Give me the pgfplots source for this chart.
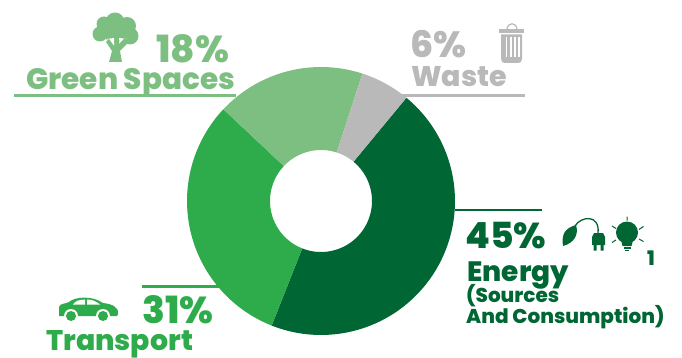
\documentclass[border=0pt]{standalone}
\usepackage{fontspec}
\setmainfont{Poppins}[BoldFont={Poppins ExtraBold}]
\usepackage{pgfplots}
\pgfplotsset{compat=1.18}
\definecolor{energy}{HTML}{006633}
\definecolor{transport}{HTML}{2EAB4A}
\definecolor{greensp}{HTML}{7DBF81}
\definecolor{waste}{HTML}{B9B9B9}
% Ring geometry in picture units
\def\cx{321}\def\cy{201}\def\ro{134}\def\ri{51}
\newcommand{\ringpath}[4]{% start angle, share, target macro, steps
  \pgfmathsetmacro{\endang}{#1+3.6*#2}
  \gdef#3{}
  \foreach \k in {0,...,#4}{
    \pgfmathsetmacro{\aa}{#1+(\endang-#1)*\k/#4}
    \pgfmathsetmacro{\px}{\cx+\ro*sin(\aa)}
    \pgfmathsetmacro{\py}{\cy-\ro*cos(\aa)}
    \xdef#3{#3 (\px,\py)}
  }
  \foreach \k in {#4,...,0}{
    \pgfmathsetmacro{\aa}{#1+(\endang-#1)*\k/#4}
    \pgfmathsetmacro{\px}{\cx+\ri*sin(\aa)}
    \pgfmathsetmacro{\py}{\cy-\ri*cos(\aa)}
    \xdef#3{#3 (\px,\py)}
  }
}
\begin{document}
\begin{tikzpicture}
% Shares in percent, clockwise from the 39.6 degree start
\ringpath{39.6}{45}{\ptsEnergy}{60}
\ringpath{201.6}{31}{\ptsTransport}{42}
\ringpath{313.2}{18}{\ptsGreen}{26}
\ringpath{378}{6}{\ptsWaste}{10}
\begin{axis}[at={(0,0)},anchor=south west,scale only axis,width=682pt,height=358pt,
  hide axis,clip=false,xmin=0,xmax=682,ymin=0,ymax=358,y dir=reverse]
\path (axis cs:0,0) rectangle (axis cs:682,358);
\edef\doplot{\noexpand\addplot[fill=energy,draw=none,no markers] coordinates {\ptsEnergy} -- cycle;}\doplot
\edef\doplot{\noexpand\addplot[fill=transport,draw=none,no markers] coordinates {\ptsTransport} -- cycle;}\doplot
\edef\doplot{\noexpand\addplot[fill=greensp,draw=none,no markers] coordinates {\ptsGreen} -- cycle;}\doplot
\edef\doplot{\noexpand\addplot[fill=waste,draw=none,no markers] coordinates {\ptsWaste} -- cycle;}\doplot

% Leader lines
\draw[greensp,line width=2.6pt] (axis cs:14,95.5) -- (axis cs:236,95.5);
\draw[waste,line width=2.6pt] (axis cs:400,95.5) -- (axis cs:525,95.5);
\draw[energy,line width=2.6pt] (axis cs:455,210) -- (axis cs:542,210);
\draw[transport,line width=2.6pt] (axis cs:142,286.5) -- (axis cs:222,286.5);

% Labels
\tikzset{lab/.style={anchor=base west,inner sep=0pt,font=\bfseries}}
\node[lab,text=greensp,font=\fontsize{37.5}{37.5}\selectfont\bfseries] at (axis cs:156,62.5) {18\%};
\node[lab,text=greensp,font=\fontsize{29.5}{29.5}\selectfont\bfseries] at (axis cs:26,90) {Green Spaces};
\node[lab,text=waste,font=\fontsize{36.5}{36.5}\selectfont\bfseries] at (axis cs:410,58) {6\%};
\node[lab,text=waste,font=\fontsize{28.5}{28.5}\selectfont\bfseries] at (axis cs:411,87) {Waste};
\node[lab,text=energy,font=\fontsize{36}{36}\selectfont\bfseries] at (axis cs:465,248) {45\%};
\node[lab,text=energy,font=\fontsize{28}{28}\selectfont\bfseries] at (axis cs:467,281) {Energy};
\node[lab,text=energy,font=\fontsize{20}{20}\selectfont\bfseries] at (axis cs:466,302) {(Sources};
\node[lab,text=energy,font=\fontsize{20}{20}\selectfont\bfseries] at (axis cs:466,323) {And Consumption)};
\node[lab,text=energy,font=\fontsize{20}{20}\selectfont\bfseries] at (axis cs:647,265) {1};
\node[lab,text=transport,font=\fontsize{37.5}{37.5}\selectfont\bfseries] at (axis cs:142,323) {31\%};
\node[lab,text=transport,font=\fontsize{28.4}{28.4}\selectfont\bfseries] at (axis cs:46,350) {Transport};

% Tree
\fill[greensp] (axis cs:115,22) circle[radius=9.5pt] (axis cs:104,24) circle[radius=7.5pt]
  (axis cs:127,26) circle[radius=9pt] (axis cs:100,34) circle[radius=7.5pt]
  (axis cs:130,36) circle[radius=8.5pt] (axis cs:115,31) circle[radius=12pt];
\fill[white] (axis cs:107,39) -- (axis cs:114,47) -- (axis cs:114,38) -- cycle
  (axis cs:127,39) -- (axis cs:120,46) -- (axis cs:119,38) -- cycle;
\fill[greensp] (axis cs:109,62) -- (axis cs:122,62) -- (axis cs:120,51) -- (axis cs:129,42)
  -- (axis cs:125,38) -- (axis cs:119,44) -- (axis cs:118,37) -- (axis cs:115,37)
  -- (axis cs:114,46) -- (axis cs:109,39) -- (axis cs:106,42) -- (axis cs:112,51) -- cycle;

% Bin
\fill[waste] (axis cs:499,29) rectangle (axis cs:524,33);
\draw[waste,line width=1.2pt] (axis cs:507,29) .. controls (axis cs:508,22) and (axis cs:516,22) .. (axis cs:517,29);
\fill[waste] (axis cs:501,34.5) -- (axis cs:522,34.5) -- (axis cs:522,59)
  .. controls (axis cs:522,62) and (axis cs:520,63) .. (axis cs:518,63) -- (axis cs:505,63)
  .. controls (axis cs:503,63) and (axis cs:501,62) .. (axis cs:501,59) -- cycle;
\foreach \sx in {505.5,510,514,518}{
  \edef\tmp{\noexpand\fill[white] (axis cs:\sx,37.5) rectangle (axis cs:\sx+1.6,57);}\tmp}

% Leaf and plug
\fill[energy] (axis cs:563,246) .. controls (axis cs:561,233) and (axis cs:566,228) .. (axis cs:576,225)
  .. controls (axis cs:579,235) and (axis cs:574,243) .. cycle;
\draw[energy,line width=1.3pt] (axis cs:575,226) .. controls (axis cs:581,216) and (axis cs:600,214) .. (axis cs:598,233);
\fill[energy] (axis cs:594,233) -- (axis cs:603,233) -- (axis cs:605,237) -- (axis cs:605,245)
  -- (axis cs:592,245) -- (axis cs:592,237) -- cycle;
\fill[energy] (axis cs:593.5,245) rectangle (axis cs:596.5,250.5) (axis cs:600.5,245) rectangle (axis cs:603.5,250.5);

% Bulb
\fill[energy] (axis cs:627,232.5) circle[radius=11pt];
\fill[energy] (axis cs:621,240) -- (axis cs:633,240) -- (axis cs:631.5,246) -- (axis cs:622.5,246) -- cycle;
\fill[energy] (axis cs:623.5,247) rectangle (axis cs:630.5,249);
\fill[energy] (axis cs:625,249.5) rectangle (axis cs:629,251);
\draw[energy,line width=1pt] (axis cs:627,216.5) -- (axis cs:627,220.5)
  (axis cs:612,226) -- (axis cs:616,228.5) (axis cs:643.5,226.5) -- (axis cs:639,229.5)
  (axis cs:612,242.5) -- (axis cs:616,240) (axis cs:643.5,241.5) -- (axis cs:639,239);

% Car
\fill[transport] (axis cs:59,316) -- (axis cs:59,307) .. controls (axis cs:60,303) and (axis cs:66,304) .. (axis cs:69,302)
  .. controls (axis cs:74,297) and (axis cs:92,295) .. (axis cs:103,303)
  .. controls (axis cs:112,304) and (axis cs:119,307) .. (axis cs:118,314)
  -- (axis cs:117,316) -- cycle;
\fill[white] (axis cs:73,304.5) .. controls (axis cs:76,300) and (axis cs:80,300) .. (axis cs:85,299.5) -- (axis cs:85,304.5) -- cycle;
\fill[white] (axis cs:87,299.5) .. controls (axis cs:92,299.5) and (axis cs:96,301) .. (axis cs:100,304.5) -- (axis cs:87,304.5) -- cycle;
\fill[white] (axis cs:71,316) circle[radius=7pt] (axis cs:103,316) circle[radius=7pt];
\fill[transport] (axis cs:71,316) circle[radius=5pt] (axis cs:103,316) circle[radius=5pt];
\end{axis}
\end{tikzpicture}
\end{document}
